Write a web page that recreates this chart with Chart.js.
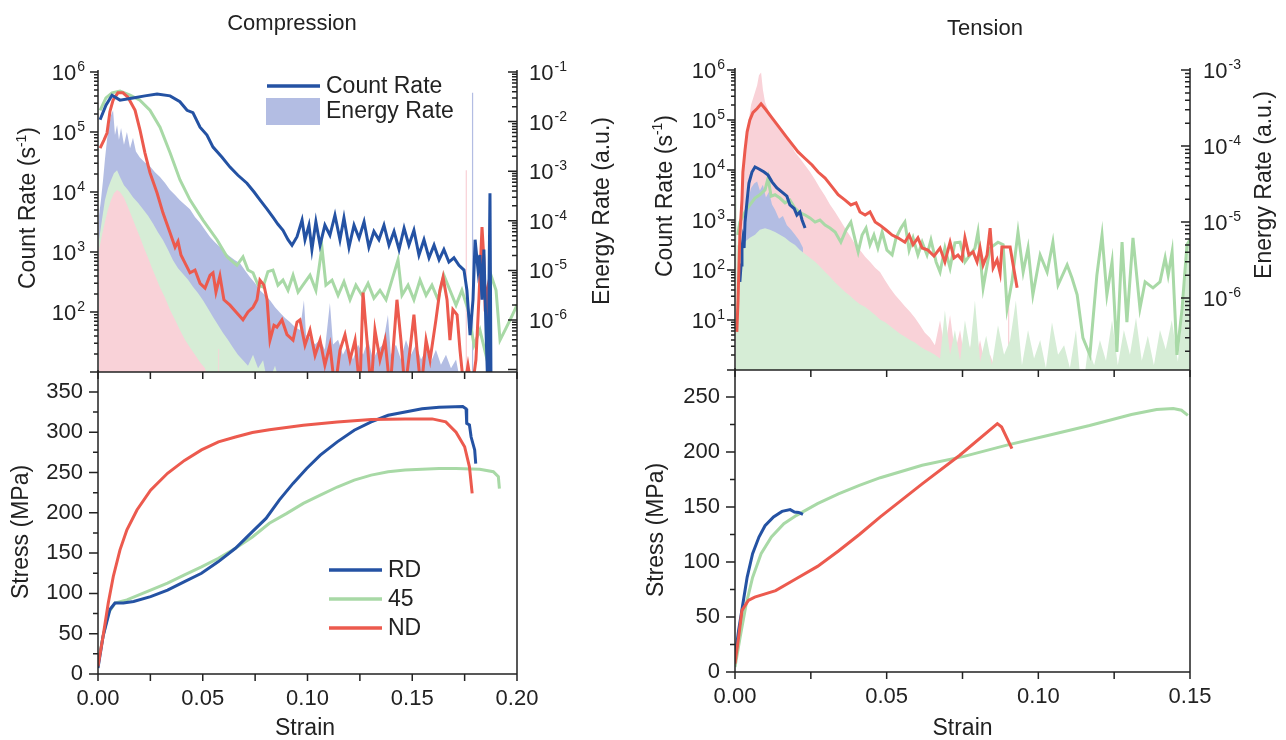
<!DOCTYPE html>
<html>
<head>
<meta charset="utf-8">
<title>Compression / Tension AE</title>
<script src="https://cdn.jsdelivr.net/npm/chart.js@4.4.1/dist/chart.umd.min.js"></script>
<style>
  body { margin: 0; background: #fff; width: 1286px; height: 740px; overflow: hidden; position: relative; }
  canvas { position: absolute; }
</style>
</head>
<body>
<canvas id="tl" width="640" height="400" style="left:0;top:0;width:640px;height:400px"></canvas>
<canvas id="tr" width="646" height="398" style="left:640px;top:0;width:646px;height:398px"></canvas>
<canvas id="bl" width="640" height="398" style="left:0;top:342px;width:640px;height:398px"></canvas>
<canvas id="br" width="646" height="400" style="left:640px;top:340px;width:646px;height:400px"></canvas>
<script>
// ---- compression: count rate (s^-1) vs strain
const compCountRD = [[0.001,1.6e5],[0.0038,2.8e5],[0.0067,4.1e5],[0.0105,3.4e5],[0.0167,3.7e5],[0.0224,4.0e5],[0.0282,4.3e5],[0.0344,4.0e5],[0.0391,3.2e5],[0.0425,2.3e5],[0.0453,2.1e5],[0.0487,1.2e5],[0.052,8.9e4],[0.0549,5.6e4],[0.0592,3.8e4],[0.063,2.6e4],[0.0668,1.9e4],[0.0711,1.4e4],[0.0745,1.0e4],[0.0773,7.4e3],[0.0807,5.2e3],[0.0835,3.8e3],[0.0859,2.9e3],[0.0883,2.3e3],[0.0907,1.6e3],[0.0926,1.3e3],[0.095,1.8e3],[0.0974,3.4e3],[0.0988,1.6e3],[0.1007,2.8e3],[0.1021,1.1e3],[0.104,3.2e3],[0.106,1.3e3],[0.1083,2.8e3],[0.1107,1.9e3],[0.1131,4.1e3],[0.1155,1.6e3],[0.1174,3.7e3],[0.1198,1.2e3],[0.1222,2.8e3],[0.1246,1.7e3],[0.127,3.2e3],[0.1293,1.2e3],[0.1317,2.2e3],[0.1341,1.6e3],[0.1365,2.8e3],[0.1389,1.3e3],[0.1413,2.2e3],[0.1437,1.1e3],[0.1461,2.5e3],[0.1484,1.3e3],[0.1508,2.3e3],[0.1532,890],[0.1556,1.6e3],[0.158,800],[0.1604,1.3e3],[0.1628,740],[0.1651,1.1e3],[0.1675,680],[0.1699,800],[0.1723,600],[0.1747,500],[0.1761,230],[0.1776,41],[0.179,160],[0.18,1.6e3],[0.1814,500],[0.1823,890],[0.1833,160],[0.1842,1.1e3],[0.1852,50],[0.1861,5],[0.1871,9.5e3],[0.1876,5]];
const compCount45 = [[0.001,2.3e5],[0.0038,3.7e5],[0.0067,4.5e5],[0.0105,4.8e5],[0.0153,4.1e5],[0.02,3.4e5],[0.0248,2.3e5],[0.0296,1.2e5],[0.0344,4.5e4],[0.0391,1.6e4],[0.0439,7.4e3],[0.0501,3.4e3],[0.0568,1.6e3],[0.0616,830],[0.0663,600],[0.0692,830],[0.0716,500],[0.074,450],[0.0764,280],[0.0788,260],[0.0811,470],[0.0835,500],[0.0859,280],[0.0883,340],[0.0907,230],[0.0931,410],[0.0955,215],[0.0978,280],[0.1012,410],[0.104,230],[0.1069,1.2e3],[0.1088,280],[0.1117,340],[0.1146,190],[0.1174,320],[0.1203,160],[0.1231,280],[0.126,190],[0.1289,300],[0.1317,170],[0.1346,230],[0.1375,160],[0.1403,340],[0.1432,740],[0.1451,190],[0.148,280],[0.1508,160],[0.1537,340],[0.1566,190],[0.1594,280],[0.1623,160],[0.1651,410],[0.168,230],[0.1709,130],[0.1737,230],[0.1766,110],[0.1795,28],[0.1823,50],[0.1852,19],[0.1876,410],[0.19,230],[0.1919,34],[0.1943,50],[0.1967,74],[0.199,110],[0.2,130]];
const compCountND = [[0.001,5.4e4],[0.0029,7.4e4],[0.0043,9.6e4],[0.0057,2.2e5],[0.0072,3.4e5],[0.0095,4.5e5],[0.0119,4.5e5],[0.0143,3.8e5],[0.0177,2.3e5],[0.02,1.1e5],[0.0224,4.5e4],[0.0248,2.1e4],[0.0282,9.6e3],[0.031,4.5e3],[0.0344,2.1e3],[0.0368,1.2e3],[0.0382,1.5e3],[0.0396,890],[0.0415,660],[0.0439,450],[0.0463,500],[0.0487,300],[0.0511,250],[0.0535,410],[0.0549,450],[0.0563,215],[0.0582,400],[0.0601,160],[0.063,130],[0.0663,96],[0.0692,74],[0.0716,100],[0.074,120],[0.0759,160],[0.0773,340],[0.0792,280],[0.0807,160],[0.0821,34],[0.084,60],[0.0854,56],[0.0878,74],[0.0902,42],[0.0931,34],[0.095,68],[0.0964,74],[0.0988,28],[0.1012,50],[0.1036,19],[0.106,34],[0.1083,13],[0.1107,28],[0.1131,5],[0.1155,23],[0.1179,42],[0.1203,16],[0.1227,34],[0.125,5],[0.1265,210],[0.1284,34],[0.1303,5],[0.1322,50],[0.1346,16],[0.137,34],[0.1394,5],[0.1427,160],[0.1446,34],[0.1465,5],[0.1489,23],[0.1508,90],[0.1523,23],[0.1542,5],[0.1566,34],[0.1585,16],[0.1613,74],[0.1632,230],[0.1647,380],[0.1666,160],[0.168,34],[0.1694,110],[0.1714,90],[0.1728,23],[0.1747,5],[0.1766,13],[0.1785,5],[0.1804,16],[0.1818,160],[0.1833,2.6e3],[0.1842,740],[0.1847,160],[0.1857,230],[0.1861,5]];
// ---- compression: energy rate (a.u.) vs strain
const compEnergyRD = [[0.0005,1.3e-4],[0.0014,2.6e-4],[0.0024,6.6e-4],[0.0033,1.7e-3],[0.0043,4.3e-3],[0.0053,8.5e-3],[0.0062,1.35e-2],[0.0072,1.7e-2],[0.0081,5.4e-3],[0.0091,8.5e-3],[0.01,4.3e-3],[0.011,7.4e-3],[0.0124,3.4e-3],[0.0138,6.2e-3],[0.0153,2.9e-3],[0.0167,4.7e-3],[0.0181,2.5e-3],[0.02,1.9e-3],[0.0224,1.5e-3],[0.0248,1.26e-3],[0.0272,9.5e-4],[0.0296,7.6e-4],[0.032,5.8e-4],[0.0344,4.2e-4],[0.0368,3.3e-4],[0.0391,2.6e-4],[0.0415,2.1e-4],[0.0439,1.7e-4],[0.0463,1.2e-4],[0.0487,9.1e-5],[0.0511,6.5e-5],[0.0535,4.7e-5],[0.0558,3.7e-5],[0.0582,2.95e-5],[0.0606,2.3e-5],[0.063,1.9e-5],[0.0654,1.6e-5],[0.0678,1.4e-5],[0.0702,1.0e-5],[0.0725,7.4e-6],[0.0749,5.6e-6],[0.0773,4.0e-6],[0.0797,3.2e-6],[0.0821,2.5e-6],[0.0845,1.8e-6],[0.0869,1.4e-6],[0.0893,1.1e-6],[0.0916,9.1e-7],[0.094,7.2e-7],[0.0964,6.3e-7],[0.0983,2.5e-6],[0.0993,5.0e-7],[0.1012,4.4e-7],[0.1036,3.2e-7],[0.106,4.0e-7],[0.1083,2.5e-7],[0.1107,2.2e-6],[0.1122,3.2e-7],[0.1146,4.0e-7],[0.1169,2.0e-7],[0.1193,3.2e-7],[0.1217,1.6e-7],[0.1241,3.2e-7],[0.1265,2.0e-7],[0.1289,4.0e-7],[0.1313,1.6e-7],[0.1336,2.5e-7],[0.136,3.2e-7],[0.1384,1.26e-6],[0.1398,2.0e-7],[0.1422,3.2e-7],[0.1446,1.6e-7],[0.147,4.0e-7],[0.1494,2.0e-7],[0.1518,3.2e-7],[0.1542,1.6e-7],[0.1566,2.5e-7],[0.1589,1.4e-7],[0.1613,2.5e-7],[0.1637,1.26e-7],[0.1661,2.0e-7],[0.1685,1.07e-7],[0.1709,1.6e-7],[0.1732,5e-8],[0.1785,5e-8],[0.1785,3.8e-2],[0.1792,3.8e-2],[0.1792,5e-8]];
const compEnergy45 = [[0.0005,4.1e-5],[0.0019,1.05e-4],[0.0033,2.6e-4],[0.0048,4.6e-4],[0.0062,6.6e-4],[0.0076,9.1e-4],[0.0091,1.05e-3],[0.0105,7.6e-4],[0.0124,5.2e-4],[0.0143,4.2e-4],[0.0167,3.0e-4],[0.0191,2.3e-4],[0.0215,1.7e-4],[0.0239,1.26e-4],[0.0263,8.7e-5],[0.0286,5.9e-5],[0.031,4.1e-5],[0.0334,2.6e-5],[0.0358,1.6e-5],[0.0382,1.1e-5],[0.0406,8.5e-6],[0.043,6.5e-6],[0.0453,4.7e-6],[0.0477,3.5e-6],[0.0501,2.5e-6],[0.0525,1.7e-6],[0.0549,1.15e-6],[0.0573,7.9e-7],[0.0597,5.5e-7],[0.062,4.0e-7],[0.0644,2.8e-7],[0.0668,2.0e-7],[0.0692,1.55e-7],[0.0716,1.2e-7],[0.074,2.0e-7],[0.0764,1.07e-7],[0.0788,1.55e-7],[0.0811,5e-8],[0.0845,1.2e-7],[0.0869,5e-8]];
const compEnergyND = [[0.0005,2.6e-5],[0.0019,5.1e-5],[0.0033,9.5e-5],[0.0048,1.7e-4],[0.0062,2.6e-4],[0.0076,3.6e-4],[0.0091,4.2e-4],[0.0105,3.8e-4],[0.0124,2.9e-4],[0.0143,1.9e-4],[0.0162,1.2e-4],[0.0181,7.4e-5],[0.02,4.7e-5],[0.022,2.8e-5],[0.0239,1.8e-5],[0.0258,1.1e-5],[0.0277,7.1e-6],[0.0296,4.5e-6],[0.032,2.8e-6],[0.0344,1.6e-6],[0.0368,1.0e-6],[0.0391,6.3e-7],[0.0415,4.0e-7],[0.0439,2.8e-7],[0.0463,2.0e-7],[0.0487,1.4e-7],[0.0511,1.07e-7],[0.0525,5e-8],[0.0574,5e-8],[0.0574,2.6e-7],[0.0578,2.6e-7],[0.0578,5e-8],[0.1755,5e-8],[0.1755,1.05e-3],[0.1761,1.05e-3],[0.1761,5e-8]];
// ---- compression: stress (MPa) vs strain
const compStressRD = [[0,7.4],[0.0024,46.6],[0.0057,80],[0.0081,88],[0.0121,88],[0.017,90],[0.0251,96],[0.0332,104],[0.0413,114.7],[0.0494,125],[0.0575,139.5],[0.0656,156],[0.0737,176.6],[0.0802,193],[0.0866,216],[0.0931,236.5],[0.0996,255],[0.1061,271.5],[0.1142,288],[0.1223,302.5],[0.1304,312.8],[0.1385,321],[0.1466,325],[0.1547,329],[0.1628,331],[0.1741,332],[0.1757,329],[0.176,311],[0.1773,309],[0.1781,294],[0.1798,278],[0.1803,261]];
const compStress45 = [[0,13.6],[0.0024,46.6],[0.0049,75.5],[0.0081,88],[0.0138,92],[0.0251,104],[0.0332,112.7],[0.0413,123],[0.0494,133],[0.0575,143.6],[0.0656,156],[0.0737,170],[0.0818,187],[0.0899,199],[0.098,211.7],[0.1061,222],[0.1142,232],[0.1223,240.6],[0.1304,246.8],[0.1385,251],[0.1466,253],[0.1547,254],[0.1628,255],[0.1709,255],[0.1822,254],[0.1887,251],[0.1911,244.7],[0.1916,230]];
const compStressND = [[0,9.5],[0.0024,46.6],[0.0049,88],[0.0073,121],[0.0105,154],[0.0138,179],[0.0186,203.5],[0.0251,228],[0.0332,249],[0.0413,265],[0.0494,278],[0.0575,288],[0.0656,294],[0.0737,299.6],[0.0818,303],[0.098,308.7],[0.1142,312.8],[0.1304,315.7],[0.1466,316.5],[0.1595,316.5],[0.166,312.8],[0.1709,300],[0.175,282],[0.1773,257],[0.1786,224]];

// ---- tension: count rate
const tensCountRD = [[0.0016,58],[0.002,126],[0.0023,275],[0.0026,400],[0.003,275],[0.0033,910],[0.004,2.5e3],[0.0046,5.5e3],[0.0056,9.1e3],[0.0066,1.15e4],[0.0079,1.05e4],[0.0096,9.1e3],[0.0109,7.9e3],[0.0122,5.8e3],[0.0138,4.4e3],[0.0155,3.6e3],[0.0171,3.0e3],[0.0181,2.0e3],[0.0195,1.7e3],[0.0204,1.26e3],[0.0214,1.45e3],[0.0221,1.0e3],[0.0231,690]];
const tensCount45 = [[0.0009,500],[0.0016,910],[0.0033,1.45e3],[0.0049,2.0e3],[0.0066,2.75e3],[0.0082,3.2e3],[0.0099,4.0e3],[0.0109,6.9e3],[0.0119,3.0e3],[0.0132,3.2e3],[0.0148,2.75e3],[0.0165,2.2e3],[0.0181,2.5e3],[0.0198,1.7e3],[0.0214,1.4e3],[0.0231,1.26e3],[0.0247,1.1e3],[0.0264,910],[0.028,1.0e3],[0.0297,790],[0.0313,690],[0.033,575],[0.0349,360],[0.0366,630],[0.0382,910],[0.0396,400],[0.0406,230],[0.0419,500],[0.0432,690],[0.0445,320],[0.0458,500],[0.0471,275],[0.0485,575],[0.0501,250],[0.0518,200],[0.0531,440],[0.0547,690],[0.056,910],[0.0574,250],[0.0587,440],[0.0603,200],[0.0617,360],[0.0633,200],[0.0646,400],[0.0663,145],[0.0676,91],[0.0692,275],[0.0709,110],[0.0725,350],[0.0742,360],[0.0758,145],[0.0775,200],[0.0791,275],[0.0801,575],[0.0818,44],[0.0841,275],[0.0867,360],[0.0884,320],[0.0897,17],[0.0913,58],[0.0933,575],[0.095,91],[0.0966,275],[0.0982,32],[0.1006,200],[0.1029,91],[0.1048,360],[0.1065,50],[0.1095,126],[0.1111,69],[0.1128,32],[0.1147,4.4],[0.117,2.0],[0.1193,79],[0.121,500],[0.1226,32],[0.1243,145],[0.1259,2.3],[0.1276,360],[0.1292,9.1],[0.1312,440],[0.1335,17],[0.1352,58],[0.1378,44],[0.1401,58],[0.1418,175],[0.1428,79],[0.1441,230],[0.1457,2.0],[0.1474,17],[0.149,320],[0.15,400]];
const tensCountND = [[0.0006,5.8],[0.001,25],[0.0016,500],[0.0023,2.5e3],[0.0026,9.1e3],[0.0033,2.5e4],[0.004,5.8e4],[0.0049,1.0e5],[0.0059,1.4e5],[0.0073,1.7e5],[0.0086,2.1e5],[0.0102,1.6e5],[0.0122,1.1e5],[0.0142,7.6e4],[0.0165,5.0e4],[0.0188,3.3e4],[0.0208,2.3e4],[0.0231,1.7e4],[0.0254,1.26e4],[0.0274,9.1e3],[0.0297,6.9e3],[0.032,4.6e3],[0.034,3.2e3],[0.0363,2.5e3],[0.0382,2.0e3],[0.0399,2.2e3],[0.0412,1.45e3],[0.0429,1.26e3],[0.0445,1.45e3],[0.0462,910],[0.0478,790],[0.0498,630],[0.0518,500],[0.0537,440],[0.056,360],[0.0574,500],[0.0587,320],[0.0603,440],[0.0617,275],[0.0636,250],[0.0656,190],[0.0676,275],[0.0692,145],[0.0709,360],[0.0722,175],[0.0735,200],[0.0748,160],[0.0758,440],[0.0771,200],[0.0785,230],[0.0798,145],[0.0808,275],[0.0818,126],[0.0831,200],[0.0841,690],[0.0851,110],[0.0864,160],[0.0874,87],[0.088,290],[0.0907,290],[0.0917,126],[0.093,44]];
// ---- tension: energy rate
const tensEnergyRD = [[0.0016,5e-8],[0.002,1.3e-6],[0.0026,3.7e-6],[0.0033,1.0e-5],[0.0043,1.95e-5],[0.0053,2.8e-5],[0.0063,3.2e-5],[0.0073,3.4e-5],[0.0082,2.6e-5],[0.0092,3.1e-5],[0.0102,2.1e-5],[0.0112,2.5e-5],[0.0122,1.7e-5],[0.0132,1.45e-5],[0.0145,1.1e-5],[0.0158,1.2e-5],[0.0171,9.1e-6],[0.0185,7.9e-6],[0.0198,6.8e-6],[0.0211,5.8e-6],[0.0224,4.6e-6],[0.0231,5e-8]];
const tensEnergy45 = [[0.0003,5e-8],[0.0005,4.2e-5],[0.0008,5.0e-6],[0.0016,4.6e-6],[0.0033,5.5e-6],[0.0049,6.2e-6],[0.0066,6.8e-6],[0.0082,7.9e-6],[0.0099,8.3e-6],[0.0115,7.9e-6],[0.0132,7.4e-6],[0.0148,6.8e-6],[0.0165,6.2e-6],[0.0181,5.5e-6],[0.0198,5.0e-6],[0.0214,4.3e-6],[0.0231,3.8e-6],[0.0247,3.4e-6],[0.0264,3.0e-6],[0.028,2.6e-6],[0.0297,2.2e-6],[0.0313,1.9e-6],[0.033,1.6e-6],[0.0346,1.4e-6],[0.0363,1.2e-6],[0.0379,1.07e-6],[0.0396,9.3e-7],[0.0412,8.3e-7],[0.0429,7.6e-7],[0.0445,6.8e-7],[0.0462,6.0e-7],[0.0478,5.2e-7],[0.0495,4.8e-7],[0.0511,4.3e-7],[0.0528,3.8e-7],[0.0544,3.4e-7],[0.056,3.1e-7],[0.0577,2.8e-7],[0.0593,2.6e-7],[0.061,2.3e-7],[0.0626,2.1e-7],[0.0643,1.95e-7],[0.0659,1.8e-7],[0.0676,1.6e-7],[0.0692,6.9e-7],[0.0709,1.8e-7],[0.0725,3.8e-7],[0.0742,1.5e-7],[0.0758,5.1e-7],[0.0775,2.1e-7],[0.0791,9.3e-7],[0.0808,1.45e-7],[0.0828,3.2e-7],[0.0847,1.3e-7],[0.0867,4.4e-7],[0.0887,1.8e-7],[0.0907,2.8e-7],[0.0926,9.3e-7],[0.0946,1.3e-7],[0.0966,3.8e-7],[0.0986,1.6e-7],[0.1006,2.8e-7],[0.1025,1.2e-7],[0.1045,4.8e-7],[0.1065,1.8e-7],[0.1085,2.4e-7],[0.1104,1.2e-7],[0.1124,3.8e-7],[0.1144,5e-8],[0.1164,2.2e-7],[0.1184,1.3e-7],[0.1203,2.8e-7],[0.1223,1.5e-7],[0.1243,5.1e-7],[0.1262,1.3e-7],[0.1282,3.8e-7],[0.1302,1.8e-7],[0.1322,5.5e-7],[0.1341,1.5e-7],[0.1361,3.2e-7],[0.1381,1.3e-7],[0.1401,3.8e-7],[0.142,2.1e-7],[0.144,5.1e-7],[0.146,1.45e-7],[0.148,9.3e-7],[0.1493,5.0e-6],[0.15,5.0e-6]];
const tensEnergyND = [[0.0003,5e-8],[0.0007,9.3e-7],[0.0013,5.8e-6],[0.002,1.95e-5],[0.0026,4.8e-5],[0.0033,8.9e-5],[0.0043,1.9e-4],[0.0053,3.5e-4],[0.0063,4.7e-4],[0.0073,6.3e-4],[0.0079,8.5e-4],[0.0086,9.3e-4],[0.0092,5.5e-4],[0.0099,3.8e-4],[0.0109,3.0e-4],[0.0122,2.3e-4],[0.0135,1.9e-4],[0.0148,1.6e-4],[0.0165,1.4e-4],[0.0181,1.1e-4],[0.0198,8.3e-5],[0.0214,6.9e-5],[0.0231,5.6e-5],[0.0247,4.6e-5],[0.0264,3.6e-5],[0.028,2.8e-5],[0.0297,2.2e-5],[0.0313,1.7e-5],[0.033,1.35e-5],[0.0346,1.07e-5],[0.0363,8.3e-6],[0.0379,6.6e-6],[0.0396,5.1e-6],[0.0412,4.3e-6],[0.0429,3.5e-6],[0.0445,3.0e-6],[0.0462,2.5e-6],[0.0478,2.2e-6],[0.0495,1.7e-6],[0.0511,1.35e-6],[0.0528,1.1e-6],[0.0544,9.3e-7],[0.056,7.8e-7],[0.0577,6.6e-7],[0.0593,5.5e-7],[0.061,4.4e-7],[0.0626,3.5e-7],[0.0643,3.0e-7],[0.0659,2.4e-7],[0.0676,5.1e-7],[0.0692,2.1e-7],[0.0709,6.0e-7],[0.0725,1.95e-7],[0.0742,3.8e-7],[0.0758,1.5e-7],[0.0775,2.4e-7],[0.0791,1.45e-7],[0.0808,2.8e-7],[0.0824,1.3e-7],[0.0841,1.8e-7],[0.0857,1.2e-7],[0.0874,5e-8],[0.09,5e-8],[0.09,9e-7],[0.0905,9e-7],[0.0905,5e-8]];
// ---- tension: stress
const tensStressRD = [[0,13.6],[0.0012,37.9],[0.0026,62],[0.004,86],[0.0058,107.6],[0.0079,122.7],[0.0099,133],[0.0127,141],[0.0155,146],[0.0182,147.6],[0.0196,145.4],[0.021,145],[0.0224,143.3]];
const tensStress45 = [[0,4.5],[0.0017,31.8],[0.0037,62],[0.0058,86],[0.0086,107.6],[0.012,122.7],[0.0161,134.8],[0.0203,142.4],[0.0272,153],[0.0341,162],[0.041,169.7],[0.0479,176.6],[0.0617,187.9],[0.0755,196],[0.0893,206],[0.1031,215],[0.1169,224],[0.1307,234],[0.139,238.5],[0.1445,239.4],[0.1472,237.9],[0.1493,233.3]];
const tensStressND = [[0,7.6],[0.0012,31.8],[0.0023,56],[0.0044,65],[0.0065,68],[0.0134,74],[0.0203,85],[0.0272,96],[0.0341,110],[0.041,125],[0.0479,141],[0.0548,156],[0.0617,171],[0.0741,197],[0.0865,225.7],[0.0879,222.7],[0.0913,203]];

// ticks
const compStrainTicks = [0, 0.025, 0.05, 0.075, 0.1, 0.125, 0.15, 0.175, 0.2];
const tensStrainTicks = [0, 0.025, 0.05, 0.075, 0.1, 0.125, 0.15];
const compStressTicks = [0, 25, 50, 75, 100, 125, 150, 175, 200, 225, 250, 275, 300, 325, 350];
const tensStressTicks = [0, 25, 50, 75, 100, 125, 150, 175, 200, 225, 250];
const compCountExp = [2, 3, 4, 5, 6];
const compEnergyExp = [-1, -2, -3, -4, -5, -6];
const tensCountExp = [1, 2, 3, 4, 5, 6];
const tensEnergyExp = [-3, -4, -5, -6];

const FONT = '"Liberation Sans", Arial, Helvetica, sans-serif';
const INK = '#222';
const BLUE = '#2452a3', GREEN = '#a8d9a6', RED = '#ec5a4e';
const BLUE_FILL = '#b3bde3', GREEN_FILL = '#d6edd6', PINK_FILL = '#f9d2d8';

Chart.defaults.font.family = FONT;
Chart.defaults.color = INK;
Chart.defaults.animation = false;

function isDecade(v) {
  const l = Math.log10(v);
  return Math.abs(l - Math.round(l)) < 1e-6;
}
function logTicks(min, max) {
  const out = [];
  for (let e = Math.floor(Math.log10(min)); e <= Math.ceil(Math.log10(max)); e++) {
    for (let m = 1; m < 10; m++) {
      const v = m * Math.pow(10, e);
      if (v >= min * 0.999 && v <= max * 1.001) out.push({ value: v });
    }
  }
  return out;
}
const onStep = (v, step) => Math.abs(v / step - Math.round(v / step)) < 1e-6;
const asTicks = vals => vals.map(v => ({ value: v }));

function line(data, color, axis, order) {
  return { data, borderColor: color, backgroundColor: color, borderWidth: 3, pointRadius: 0,
           tension: 0, fill: false, yAxisID: axis, order, clip: 0 };
}
function area(data, color, order) {
  return { data, borderColor: color, backgroundColor: color, borderWidth: 0, pointRadius: 0,
           tension: 0, fill: 'start', yAxisID: 'y2', order, clip: 0 };
}

// axis lines + tick marks (outward / inward, major / minor)
function axisMarks(spec, frame) {
  return {
    id: 'axisMarks',
    afterDraw(chart) {
      const ctx = chart.ctx, a = chart.chartArea;
      ctx.save();
      ctx.strokeStyle = INK;
      ctx.lineWidth = 1.5;
      ctx.beginPath();
      for (const id in spec) {
        const s = chart.scales[id], o = spec[id];
        const horiz = s.isHorizontal();
        const edge = horiz ? a.bottom : (s.position === 'left' ? a.left : a.right);
        const out = (s.position === 'left') ? -1 : 1;
        if (horiz) { ctx.moveTo(a.left, edge); ctx.lineTo(a.right, edge); }
        else { ctx.moveTo(edge, a.top - 2); ctx.lineTo(edge, a.bottom); }
        s.ticks.forEach(t => {
          const p = s.getPixelForValue(t.value);
          const len = (o.isMajor(t.value) ? o.major : o.minor) * out * (o.inward ? -1 : 1);
          if (horiz) { ctx.moveTo(p, edge); ctx.lineTo(p, edge + len); }
          else { ctx.moveTo(edge, p); ctx.lineTo(edge + len, p); }
        });
      }
      if (frame) { ctx.moveTo(a.right, a.top); ctx.lineTo(a.right, a.bottom); }
      ctx.stroke();
      ctx.restore();
    }
  };
}

// "10" with a raised exponent at each labelled decade of a log axis
function powerLabels(spec) {
  return {
    id: 'powerLabels',
    afterDraw(chart) {
      const ctx = chart.ctx, a = chart.chartArea;
      ctx.save();
      ctx.fillStyle = INK;
      ctx.textBaseline = 'alphabetic';
      ctx.textAlign = 'left';
      for (const id in spec) {
        const s = chart.scales[id], o = spec[id];
        o.exps.forEach(e => {
          const y = s.getPixelForValue(Math.pow(10, e));
          const ex = String(e);
          ctx.font = `22px ${FONT}`;
          const bw = ctx.measureText('10').width;
          ctx.font = `14px ${FONT}`;
          const ew = ctx.measureText(ex).width;
          const x0 = s.position === 'left' ? a.left - o.pad - bw - ew - 1 : a.right + o.pad;
          ctx.font = `22px ${FONT}`;
          ctx.fillText('10', x0, y + 8);
          ctx.font = `14px ${FONT}`;
          ctx.fillText(ex, x0 + bw + 1, y - 1);
        });
      }
      ctx.restore();
    }
  };
}

// free text; parts may carry a superscript
function texts(items) {
  return {
    id: 'texts',
    afterDraw(chart) {
      const ctx = chart.ctx;
      items.forEach(it => {
        const parts = it.parts || [{ t: it.text }];
        ctx.save();
        ctx.fillStyle = INK;
        ctx.textAlign = 'left';
        ctx.textBaseline = 'alphabetic';
        ctx.translate(it.x, it.y);
        if (it.rot) ctx.rotate(it.rot * Math.PI / 180);
        const sizeOf = p => p.sup ? Math.round(it.size * 0.62) : it.size;
        let total = 0;
        parts.forEach(p => { ctx.font = `${sizeOf(p)}px ${FONT}`; total += ctx.measureText(p.t).width; });
        let x = -total / 2;
        const base = it.size * 0.36;
        parts.forEach(p => {
          ctx.font = `${sizeOf(p)}px ${FONT}`;
          ctx.fillText(p.t, x, p.sup ? base - it.size * 0.42 : base);
          x += ctx.measureText(p.t).width;
        });
        ctx.restore();
      });
    }
  };
}

function legendBox(items, dx, dy, gap) {
  return {
    id: 'legendBox',
    afterDraw(chart) {
      const ctx = chart.ctx, a = chart.chartArea;
      ctx.save();
      ctx.font = `23px ${FONT}`;
      ctx.textBaseline = 'middle';
      ctx.textAlign = 'left';
      items.forEach((it, i) => {
        const x = a.left + dx, y = a.top + dy + i * gap;
        if (it.box) {
          ctx.fillStyle = it.color;
          ctx.fillRect(x - 1, y - 13, 54, 27);
        } else {
          ctx.strokeStyle = it.color;
          ctx.lineWidth = 3.5;
          ctx.beginPath(); ctx.moveTo(x, y); ctx.lineTo(x + 53, y); ctx.stroke();
        }
        ctx.fillStyle = INK;
        ctx.fillText(it.label, x + 59, y + 1);
      });
      ctx.restore();
    }
  };
}

const noGrid = { display: false, drawTicks: false };
const noBorder = { display: false };
const logMajor = v => isDecade(v);
const countTitle = [{ t: 'Count Rate (s' }, { t: '-1', sup: true }, { t: ')' }];

function baseOptions(padding) {
  return {
    responsive: false,
    devicePixelRatio: 1,
    events: [],
    layout: { padding },
    plugins: { legend: { display: false }, tooltip: { enabled: false } }
  };
}

// ---------- top left: compression AE ----------
const tlEnergyMin = 8.95e-8;
new Chart(document.getElementById('tl'), {
  type: 'line',
  data: { datasets: [
    line(compCountRD, BLUE, 'y', 1),
    line(compCountND, RED, 'y', 2),
    line(compCount45, GREEN, 'y', 3),
    area(compEnergyND, PINK_FILL, 4),
    area(compEnergy45, GREEN_FILL, 5),
    area(compEnergyRD, BLUE_FILL, 6)
  ] },
  options: {
    ...baseOptions({ top: 72, left: 0, right: 0, bottom: 0 }),
    scales: {
      x: { type: 'linear', min: 0, max: 0.2, grid: noGrid, border: noBorder,
           afterBuildTicks: s => { s.ticks = asTicks(compStrainTicks); },
           ticks: { display: false }, afterFit: s => { s.height = 28; } },
      y: { type: 'logarithmic', position: 'left', min: 10, max: 1e6, grid: noGrid, border: noBorder,
           afterBuildTicks: s => { s.ticks = logTicks(10, 1e6); },
           ticks: { display: false }, afterFit: s => { s.width = 98; } },
      y2: { type: 'logarithmic', position: 'right', min: tlEnergyMin, max: 0.1, grid: noGrid, border: noBorder,
            afterBuildTicks: s => { s.ticks = logTicks(tlEnergyMin, 0.1); },
            ticks: { display: false }, afterFit: s => { s.width = 123; } }
    }
  },
  plugins: [
    axisMarks({
      x: { isMajor: () => true, major: 7, minor: 7 },
      y: { isMajor: logMajor, major: 8, minor: 4 },
      y2: { isMajor: logMajor, major: 9, minor: 5, inward: true }
    }),
    powerLabels({ y: { exps: compCountExp, pad: 13 }, y2: { exps: compEnergyExp, pad: 12 } }),
    legendBox([{ label: 'Count Rate', color: BLUE }, { label: 'Energy Rate', color: BLUE_FILL, box: true }], 169, 14, 25),
    texts([
      { text: 'Compression', x: 292, y: 22, size: 22 },
      { parts: countTitle, x: 27, y: 208, size: 23, rot: -90 },
      { text: 'Energy Rate (a.u.)', x: 601, y: 211, size: 23, rot: -90 }
    ])
  ]
});

// ---------- top right: tension AE ----------
const trEnergyMin = 1.13e-7;
new Chart(document.getElementById('tr'), {
  type: 'line',
  data: { datasets: [
    line(tensCountND, RED, 'y', 1),
    line(tensCountRD, BLUE, 'y', 2),
    line(tensCount45, GREEN, 'y', 3),
    area(tensEnergy45, GREEN_FILL, 4),
    area(tensEnergyRD, BLUE_FILL, 5),
    area(tensEnergyND, PINK_FILL, 6)
  ] },
  options: {
    ...baseOptions({ top: 70, left: 0, right: 0, bottom: 0 }),
    scales: {
      x: { type: 'linear', min: 0, max: 0.15, grid: noGrid, border: noBorder,
           afterBuildTicks: s => { s.ticks = asTicks(tensStrainTicks); },
           ticks: { display: false }, afterFit: s => { s.height = 28; } },
      y: { type: 'logarithmic', position: 'left', min: 1, max: 1e6, grid: noGrid, border: noBorder,
           afterBuildTicks: s => { s.ticks = logTicks(1, 1e6); },
           ticks: { display: false }, afterFit: s => { s.width = 95; } },
      y2: { type: 'logarithmic', position: 'right', min: trEnergyMin, max: 1e-3, grid: noGrid, border: noBorder,
            afterBuildTicks: s => { s.ticks = logTicks(trEnergyMin, 1e-3); },
            ticks: { display: false }, afterFit: s => { s.width = 96; } }
    }
  },
  plugins: [
    axisMarks({
      x: { isMajor: () => true, major: 7, minor: 7 },
      y: { isMajor: logMajor, major: 8, minor: 4 },
      y2: { isMajor: logMajor, major: 9, minor: 5, inward: true }
    }),
    powerLabels({ y: { exps: tensCountExp, pad: 10 }, y2: { exps: tensEnergyExp, pad: 13 } }),
    texts([
      { text: 'Tension', x: 345, y: 27, size: 22 },
      { parts: countTitle, x: 23.5, y: 196, size: 23, rot: -90 },
      { text: 'Energy Rate (a.u.)', x: 622.5, y: 185, size: 23, rot: -90 }
    ])
  ]
});

// ---------- bottom left: compression stress-strain ----------
new Chart(document.getElementById('bl'), {
  type: 'line',
  data: { datasets: [
    line(compStressND, RED, 'y', 1),
    line(compStressRD, BLUE, 'y', 2),
    line(compStress45, GREEN, 'y', 3)
  ] },
  options: {
    ...baseOptions({ top: 30, left: 0, right: 123, bottom: 0 }),
    scales: {
      x: { type: 'linear', min: 0, max: 0.2, grid: noGrid, border: noBorder,
           afterBuildTicks: s => { s.ticks = asTicks(compStrainTicks); },
           ticks: { autoSkip: false, maxRotation: 0, padding: 12, font: { size: 22 },
                    callback: v => onStep(v, 0.05) ? v.toFixed(2) : '' },
           afterFit: s => { s.height = 66; } },
      y: { type: 'linear', position: 'left', min: 0, max: 374.7, grid: noGrid, border: noBorder,
           afterBuildTicks: s => { s.ticks = asTicks(compStressTicks); },
           ticks: { autoSkip: false, padding: 15, font: { size: 22 },
                    callback: v => onStep(v, 50) ? String(v) : '' },
           afterFit: s => { s.width = 98; } }
    }
  },
  plugins: [
    axisMarks({
      x: { isMajor: () => true, major: 7, minor: 7 },
      y: { isMajor: v => onStep(v, 50), major: 9, minor: 5 }
    }, true),
    legendBox([{ label: 'RD', color: BLUE }, { label: '45', color: GREEN }, { label: 'ND', color: RED }], 231, 198, 29),
    texts([
      { text: 'Stress (MPa)', x: 20, y: 190, size: 23, rot: -90 },
      { text: 'Strain', x: 305, y: 385, size: 23 }
    ])
  ]
});

// ---------- bottom right: tension stress-strain ----------
new Chart(document.getElementById('br'), {
  type: 'line',
  data: { datasets: [
    line(tensStressND, RED, 'y', 1),
    line(tensStressRD, BLUE, 'y', 2),
    line(tensStress45, GREEN, 'y', 3)
  ] },
  options: {
    ...baseOptions({ top: 30, left: 0, right: 96, bottom: 0 }),
    scales: {
      x: { type: 'linear', min: 0, max: 0.15, grid: noGrid, border: noBorder,
           afterBuildTicks: s => { s.ticks = asTicks(tensStrainTicks); },
           ticks: { autoSkip: false, maxRotation: 0, padding: 12, font: { size: 22 },
                    callback: v => onStep(v, 0.05) ? v.toFixed(2) : '' },
           afterFit: s => { s.height = 68; } },
      y: { type: 'linear', position: 'left', min: 0, max: 274.5, grid: noGrid, border: noBorder,
           afterBuildTicks: s => { s.ticks = asTicks(tensStressTicks); },
           ticks: { autoSkip: false, padding: 15, font: { size: 22 },
                    callback: v => onStep(v, 50) ? String(v) : '' },
           afterFit: s => { s.width = 95; } }
    }
  },
  plugins: [
    axisMarks({
      x: { isMajor: () => true, major: 7, minor: 7 },
      y: { isMajor: v => onStep(v, 50), major: 9, minor: 5 }
    }, true),
    texts([
      { text: 'Stress (MPa)', x: 15, y: 190, size: 23, rot: -90 },
      { text: 'Strain', x: 322.5, y: 387, size: 23 }
    ])
  ]
});
</script>
</body>
</html>
